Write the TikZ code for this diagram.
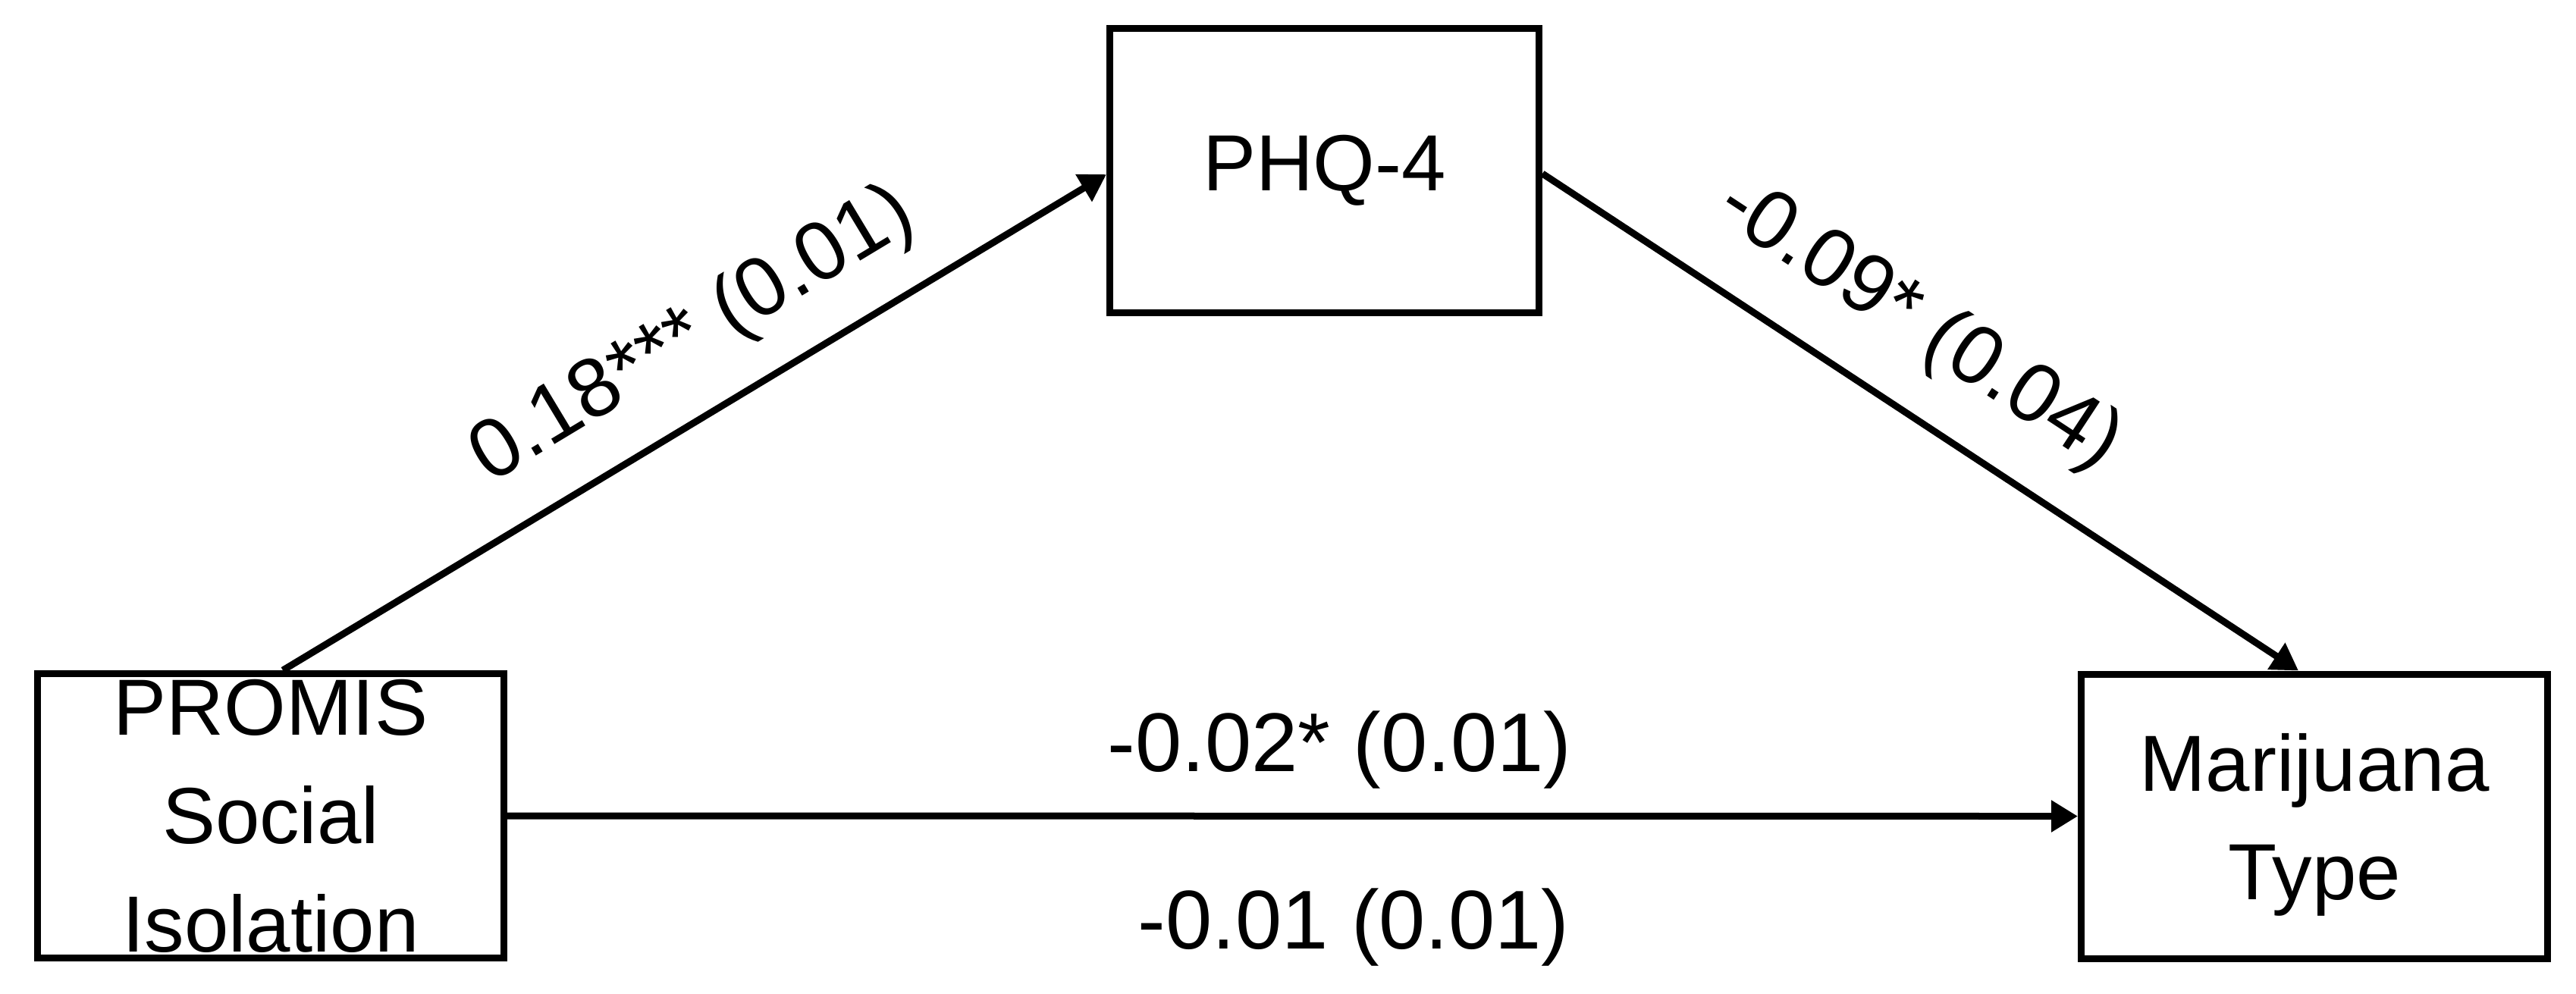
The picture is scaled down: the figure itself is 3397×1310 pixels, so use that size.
\documentclass[tikz,border=0pt]{standalone}
\usepackage{fontspec}
\setmainfont{Liberation Sans}
\usetikzlibrary{arrows.meta}
\begin{document}
\begin{tikzpicture}[x=0.2pt,y=-0.2pt,
  box/.style={draw=black, line width=1.8pt, minimum width=123pt, minimum height=75pt,
    inner sep=0pt, align=center, font=\fontsize{21}{28.6}\selectfont},
  conn/.style={draw=black, line width=1.8pt, -{Triangle[length=7pt,width=8pt]}},
  lbl/.style={font=\fontsize{22}{26}\selectfont, inner sep=0pt}]
\useasboundingbox (0,0) rectangle (3397,1310);
\node[box] (promis) at (357,1076) {PROMIS\\Social\\Isolation};
\node[box, minimum width=113.2pt] (phq) at (1746.5,225) {PHQ-4};
\node[box] (mt) at (3052,1076.5) {Marijuana\\\raisebox{0pt}[\height][0pt]{Type}};
\draw[conn] ([xshift=3.2pt]promis.north) -- node[lbl, pos=0.545, sloped, above=8.5pt] {0.18*** (0.01)} ([yshift=-1pt]phq.west);
\draw[conn] ([yshift=-0.8pt]phq.east) -- node[lbl, pos=0.44, sloped, above=10pt] {-0.09* (0.04)} ([xshift=-4.2pt]mt.north);
\draw[conn] (promis.east) --
  node[lbl, pos=0.53, anchor=base, yshift=11.8pt] {-0.02* (0.01)}
  node[lbl, pos=0.539, anchor=base, yshift=-35pt] {-0.01 (0.01)} (mt.west);
\end{tikzpicture}
\end{document}
